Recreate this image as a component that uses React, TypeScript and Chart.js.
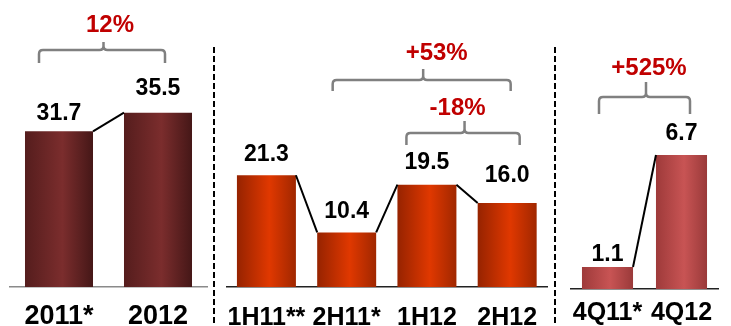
import React, { useEffect, useRef } from "react";
import { Chart, registerables } from "chart.js";

Chart.register(...registerables);

// ---- data ----
const yearCategories = ["2011*", "2012"];
const yearValues = [31.7, 35.5];
const yearChanges = ["12%"];

const halfCategories = ["1H11**", "2H11*", "1H12", "2H12"];
const halfValues = [21.3, 10.4, 19.5, 16.0];
const halfChanges = ["+53%", "-18%"];

const quarterCategories = ["4Q11*", "4Q12"];
const quarterValues = [1.1, 6.7];
const quarterChanges = ["+525%"];

// ---- layout / style ----
const W = 731;
const H = 340;
const FONT = "'Liberation Sans', Arial, Helvetica, sans-serif";
const separatorX = [214, 555];
const separatorTop = 47;
const TICK_SHIFT = 3.5;

type Bracket = {
  from: number; to: number; dl: number; dr: number;
  y: number; leg: number; peak: number;
  text: string; textDx: number; textY: number;
};

type Panel = {
  labels: string[]; values: number[]; yMax: number;
  left: number; right: number; baseline: number; labelCenter: number;
  tickFont: number; barPct: number; stops: [number, string][];
  axisColor: string; lifts: number[]; brackets: Bracket[]; separators?: boolean;
};

const panels: Panel[] = [
  {
    labels: yearCategories, values: yearValues, yMax: 58.45,
    left: 9.5, right: 207.5, baseline: 287, labelCenter: 313, tickFont: 27, barPct: 0.687,
    stops: [[0, "#551d1d"], [0.55, "#7b2d2d"], [1, "#451717"]],
    axisColor: "#8a8a8a", lifts: [18, 24],
    brackets: [{ from: 0, to: 1, dl: -20, dr: 7, y: 50, leg: 13, peak: 8, text: yearChanges[0], textDx: 8, textY: 25 }],
  },
  {
    labels: halfCategories, values: halfValues, yMax: 54.7,
    left: 226.3, right: 547.3, baseline: 287, labelCenter: 315, tickFont: 25, barPct: 0.735,
    stops: [[0, "#962300"], [0.55, "#e03800"], [1, "#a02700"]],
    axisColor: "#222", lifts: [21, 21, 22, 27],
    brackets: [
      { from: 1, to: 3, dl: -14, dr: 3.5, y: 80, leg: 11, peak: 11, text: halfChanges[0], textDx: 15, textY: 53 },
      { from: 2, to: 3, dl: -20.5, dr: 12.5, y: 133, leg: 12, peak: 12, text: halfChanges[1], textDx: -5.5, textY: 108 },
    ],
    separators: true,
  },
  {
    labels: quarterCategories, values: quarterValues, yMax: 14.45,
    left: 570.5, right: 718.5, baseline: 289, labelCenter: 310, tickFont: 25, barPct: 0.69,
    stops: [[0, "#9e3a3a"], [0.55, "#c85454"], [1, "#9a3a3a"]],
    axisColor: "#222", lifts: [12, 21.5],
    brackets: [{ from: 0, to: 1, dl: -8.5, dr: 8.5, y: 97, leg: 17, peak: 15, text: quarterChanges[0], textDx: 4.5, textY: 68 }],
  },
];

function makeOverlay(p: Panel) {
  return {
    id: "overlay",
    beforeDatasetsDraw(chart: any) {
      // horizontal gradient fill for each bar, based on its laid-out geometry
      const bars = chart.getDatasetMeta(0).data as any[];
      bars.forEach((bar) => {
        const l = bar.x - bar.width / 2;
        const r = bar.x + bar.width / 2;
        if (!Number.isFinite(l) || !Number.isFinite(r)) return;
        const g = chart.ctx.createLinearGradient(l, 0, r, 0);
        p.stops.forEach(([o, col]) => g.addColorStop(o, col));
        bar.options = Object.assign(Object.create(Object.getPrototypeOf(bar.options)), bar.options, { backgroundColor: g });
      });
    },
    afterDraw(chart: any) {
      const ctx = chart.ctx as CanvasRenderingContext2D;
      const bars = chart.getDatasetMeta(0).data as any[];
      ctx.save();
      // connector lines between bar tops
      ctx.strokeStyle = "#000";
      ctx.lineWidth = 2;
      ctx.beginPath();
      for (let i = 0; i < bars.length - 1; i++) {
        const a = bars[i], b = bars[i + 1];
        ctx.moveTo(a.x + a.width / 2, a.y);
        ctx.lineTo(b.x - b.width / 2, b.y);
      }
      ctx.stroke();

      // value labels
      ctx.fillStyle = "#000";
      ctx.font = `bold 23px ${FONT}`;
      ctx.textAlign = "center";
      ctx.textBaseline = "middle";
      bars.forEach((bar, i) => {
        ctx.fillText(p.values[i].toFixed(1), bar.x, bar.y - p.lifts[i]);
      });

      // change brackets
      p.brackets.forEach((br) => {
        const l = bars[br.from].x + br.dl;
        const r = bars[br.to].x + br.dr;
        const c = (l + r) / 2 + 1.5;
        const y = br.y;
        const rad = 4;
        ctx.strokeStyle = "#808080";
        ctx.lineWidth = 2.5;
        ctx.lineJoin = "round";
        ctx.beginPath();
        ctx.moveTo(l, y + br.leg);
        ctx.lineTo(l, y + rad);
        ctx.quadraticCurveTo(l, y, l + rad, y);
        ctx.lineTo(c - rad, y);
        ctx.quadraticCurveTo(c, y, c, y - rad);
        ctx.lineTo(c, y - br.peak);
        ctx.moveTo(c, y - rad);
        ctx.quadraticCurveTo(c, y, c + rad, y);
        ctx.lineTo(r - rad, y);
        ctx.quadraticCurveTo(r, y, r, y + rad);
        ctx.lineTo(r, y + br.leg);
        ctx.stroke();

        ctx.fillStyle = "#c00000";
        ctx.font = `bold 24px ${FONT}`;
        ctx.textAlign = "center";
        ctx.textBaseline = "middle";
        ctx.fillText(br.text, (l + r) / 2 + br.textDx, br.textY);
      });

      // dashed separators
      if (p.separators) {
        ctx.strokeStyle = "#000";
        ctx.lineWidth = 2;
        ctx.setLineDash([6, 3]);
        separatorX.forEach((x) => {
          ctx.beginPath();
          ctx.moveTo(x, separatorTop);
          ctx.lineTo(x, H);
          ctx.stroke();
        });
        ctx.setLineDash([]);
      }
      ctx.restore();
    },
  };
}

function buildChart(canvas: HTMLCanvasElement, p: Panel) {
  const lh = p.tickFont * 1.2;
  const tickPad = p.labelCenter - p.baseline - lh / 2;
  const axisH = tickPad + lh;
  const padB = H - p.baseline - axisH;
  return new Chart(canvas, {
    type: "bar",
    data: {
      labels: p.labels,
      datasets: [
        {
          data: p.values,
          borderWidth: 0,
          barPercentage: p.barPct,
          categoryPercentage: 1,
          backgroundColor: () => p.stops[1][1],
        },
      ],
    },
    options: {
      responsive: false,
      animation: false,
      layout: { padding: { left: p.left, right: W - p.right, top: 0, bottom: padB } },
      plugins: { legend: { display: false }, tooltip: { enabled: false } },
      scales: {
        x: {
          type: "category",
          offset: true,
          grid: { display: false, drawTicks: false },
          border: { display: true, color: p.axisColor, width: 1.5 },
          ticks: {
            color: "#000",
            font: { family: FONT, size: p.tickFont, weight: "bold" },
            padding: tickPad + TICK_SHIFT,
            maxRotation: 0,
            autoSkip: false,
          },
          afterFit: (scale: any) => {
            scale.height = axisH;
          },
        },
        y: { display: false, min: 0, max: p.yMax },
      },
    },
    plugins: [makeOverlay(p)],
  } as any);
}

export default function App() {
  const r0 = useRef<HTMLCanvasElement>(null);
  const r1 = useRef<HTMLCanvasElement>(null);
  const r2 = useRef<HTMLCanvasElement>(null);

  useEffect(() => {
    const refs = [r0, r1, r2];
    const charts = panels.map((p, i) => buildChart(refs[i].current as HTMLCanvasElement, p));
    return () => charts.forEach((c) => c.destroy());
  }, []);

  const cs: React.CSSProperties = { position: "absolute", left: 0, top: 0, width: W, height: H };
  return (
    <div style={{ position: "absolute", left: 0, top: 0, width: W, height: 326, overflow: "hidden", background: "#fff" }}>
      <canvas ref={r0} width={W} height={H} style={cs} />
      <canvas ref={r1} width={W} height={H} style={cs} />
      <canvas ref={r2} width={W} height={H} style={cs} />
    </div>
  );
}
